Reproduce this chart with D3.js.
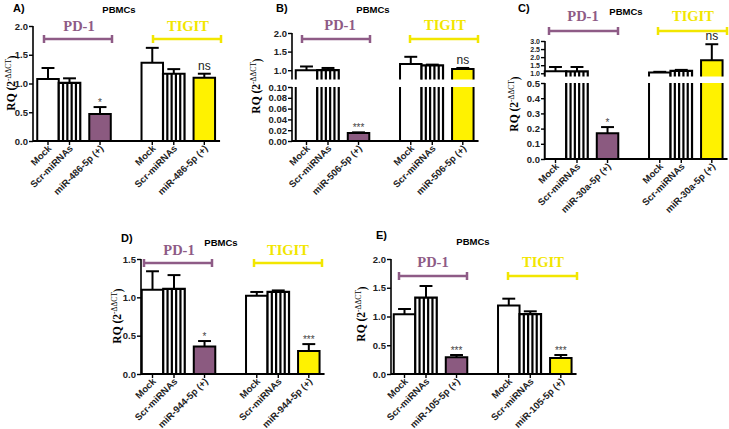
<!DOCTYPE html>
<html><head><meta charset="utf-8">
<script src="https://cdn.jsdelivr.net/npm/d3@7"></script>
<style>body{margin:0;background:#fff} svg{display:block}</style>
</head><body>
<script>
// ---------------- data ----------------
const groupLabels = ["PD-1", "TIGIT"];
const panelTitle = "PBMCs";

const catsA = ["Mock", "Scr-miRNAs", "miR-486-5p (+)"];
const pd1A = [1.08, 1.01, 0.47];   const pd1ErrA = [0.19, 0.08, 0.12];
const tigitA = [1.36, 1.17, 1.10]; const tigitErrA = [0.26, 0.08, 0.07];
const sigA = ["*", "ns"];
const ticksA = [0, 0.5, 1.0, 1.5, 2.0];

const catsB = ["Mock", "Scr-miRNAs", "miR-506-5p (+)"];
const pd1B = [1.00, 1.00, 0.015];  const pd1ErrB = [0.10, 0.06, 0.001];
const tigitB = [1.17, 1.13, 1.03]; const tigitErrB = [0.19, 0.02, 0.03];
const sigB = ["***", "ns"];
const ticksBlow = [0, 0.02, 0.04, 0.06, 0.08, 0.10];
const ticksBup = [1.0, 1.5, 2.0];

const catsC = ["Mock", "Scr-miRNAs", "miR-30a-5p (+)"];
const pd1C = [1.12, 1.12, 0.17];   const pd1ErrC = [0.27, 0.27, 0.04];
const tigitC = [1.05, 1.15, 1.80]; const tigitErrC = [0.04, 0.06, 1.00];
const sigC = ["*", "ns"];
const ticksClow = [0, 0.1, 0.2, 0.3, 0.4, 0.5];
const ticksCup = [1.0, 1.5, 2.0, 2.5, 3.0];

const catsD = ["Mock", "Scr-miRNAs", "miR-944-5p (+)"];
const pd1D = [1.10, 1.11, 0.36];   const pd1ErrD = [0.24, 0.18, 0.07];
const tigitD = [1.02, 1.07, 0.30]; const tigitErrD = [0.05, 0.02, 0.09];
const sigD = ["*", "***"];
const ticksD = [0, 0.5, 1.0, 1.5];

const catsE = ["Mock", "Scr-miRNAs", "miR-105-5p (+)"];
const pd1E = [1.04, 1.33, 0.29];   const pd1ErrE = [0.09, 0.20, 0.04];
const tigitE = [1.19, 1.04, 0.28]; const tigitErrE = [0.12, 0.05, 0.05];
const sigE = ["***", "***"];
const ticksE = [0, 0.5, 1.0, 1.5, 2.0];

// ---------------- layout ----------------
const slotPos = [0, 1, 2.42, 4.85, 5.85, 7.27]; // bar slot positions in bar widths
const BW = 21.5;
const PURPLE = "#8b5a80", YELLOW = "#fff200";
const PD1COL = "#8e5b86", TIGCOL = "#f2e600";

const panels = [
  {letter:"A)", lp:[13,12], cats:catsA, vals:[...pd1A, ...tigitA], errs:[...pd1ErrA, ...tigitErrA], sig:sigA,
   axisX:33, firstC:48, title:[119,13], gl:[[79,31],[188,31]], br:[[44,112],[153,221]], brY:39, ylab:[11,83],
   segs:[{dom:[0,2], rng:[141,26], ticks:ticksA, fmt:".1f", fs:9.5}]},
  {letter:"B)", lp:[276,12], cats:catsB, vals:[...pd1B, ...tigitB], errs:[...pd1ErrB, ...tigitErrB], sig:sigB,
   axisX:292, firstC:306.5, title:[373,13], gl:[[340,30],[445,30]], br:[[302,370],[410,478]], brY:39, ylab:[256,86],
   segs:[{dom:[0,0.1], rng:[141,87], ticks:ticksBlow, fmt:".2f", fs:9.5},{dom:[0.75,2.0], rng:[79.5,33], ticks:ticksBup, fmt:".1f", fs:9.5}]},
  {letter:"C)", lp:[518,12], cats:catsC, vals:[...pd1C, ...tigitC], errs:[...pd1ErrC, ...tigitErrC], sig:sigC,
   axisX:545, firstC:555.5, title:[626,15], gl:[[583,21],[693,21]], br:[[549,618],[658,727]], brY:31, ylab:[514,104],
   segs:[{dom:[0,0.5], rng:[159,83], ticks:ticksClow, fmt:".1f", fs:9.5},{dom:[0.8,3.0], rng:[76.5,41], ticks:ticksCup, fmt:".1f", fs:7}]},
  {letter:"D)", lp:[121,242], cats:catsD, vals:[...pd1D, ...tigitD], errs:[...pd1ErrD, ...tigitErrD], sig:sigD,
   axisX:141, firstC:152.5, title:[221,246], gl:[[179,255],[288,255]], br:[[144,212],[254,322]], brY:263, ylab:[117,316],
   segs:[{dom:[0,1.5], rng:[374,259], ticks:ticksD, fmt:".1f", fs:9.5}]},
  {letter:"E)", lp:[376,239], cats:catsE, vals:[...pd1E, ...tigitE], errs:[...pd1ErrE, ...tigitErrE], sig:sigE,
   axisX:391, firstC:404.5, title:[473,245], gl:[[433,267],[543,267]], br:[[399,467],[508,577]], brY:276, ylab:[361,314],
   segs:[{dom:[0,2.0], rng:[374,259], ticks:ticksE, fmt:".1f", fs:9.5}]}
];

const svg = d3.select("body").append("svg").attr("width", 729).attr("height", 429)
  .style("font-family", "'Liberation Sans', Arial, sans-serif");

panels.forEach(p => {
  const g = svg.append("g");
  const x = d3.scaleLinear().domain([0, 1]).range([p.firstC, p.firstC + BW]);
  p.segs.forEach(s => { s.y = d3.scaleLinear().domain(s.dom).range(s.rng); });
  const y0 = p.segs[0].y(0);
  const yOf = v => {
    let s = p.segs.find(s => v >= s.dom[0] && v <= s.dom[1]);
    if (!s) s = v > p.segs[p.segs.length - 1].dom[1] ? p.segs[p.segs.length - 1] : p.segs[0];
    return s.y(Math.max(s.dom[0], Math.min(s.dom[1], v)));
  };

  // y axes (one per segment)
  p.segs.forEach(s => {
    const ax = g.append("g").attr("transform", `translate(${p.axisX},0)`)
      .call(d3.axisLeft(s.y).tickValues(s.ticks).tickFormat(d3.format(s.fmt)).tickSize(4).tickSizeOuter(0));
    ax.select(".domain").attr("stroke", "#000").attr("stroke-width", 1.6)
      .attr("d", `M0,${s.rng[0]}V${s.rng[1]}`);
    ax.selectAll(".tick line").attr("stroke", "#000").attr("stroke-width", 1.4);
    ax.selectAll(".tick text").attr("x", -5).attr("font-size", s.fs)
      .attr("font-weight", "bold").attr("fill", "#222").attr("font-family", "'Liberation Sans', Arial, sans-serif");
  });

  // bars
  p.vals.forEach((v, i) => {
    const cx = x(slotPos[i]);
    const left = cx - BW / 2, right = cx + BW / 2;
    const k = i % 3, grp = Math.floor(i / 3);
    const fill = k === 2 ? (grp === 0 ? PURPLE : YELLOW) : "#fff";
    p.segs.forEach(s => {
      if (v <= s.dom[0]) return;
      const yb = s.y(s.dom[0]);
      const yt = s.y(Math.min(v, s.dom[1]));
      g.append("rect").attr("x", left).attr("y", yt).attr("width", BW).attr("height", yb - yt).attr("fill", fill);
      if (k === 1) {
        [0.2, 0.4, 0.6, 0.8].forEach(f => {
          g.append("line").attr("x1", left + f * BW).attr("x2", left + f * BW).attr("y1", yt).attr("y2", yb)
            .attr("stroke", "#000").attr("stroke-width", 2.2);
        });
      }
      let d = `M${left},${yb}V${yt}`;
      d += v <= s.dom[1] ? `H${right}` : `M${right},${yt}`;
      d += `V${yb}`;
      g.append("path").attr("d", d).attr("fill", "none").attr("stroke", "#000")
        .attr("stroke-width", k === 1 ? 2.2 : 2).attr("stroke-linejoin", "miter");
    });
    // error bar
    const e = p.errs[i];
    const ya = yOf(v), ye = yOf(v + e);
    if (ya - ye > 0.5) {
      g.append("line").attr("x1", cx).attr("x2", cx).attr("y1", ya).attr("y2", ye).attr("stroke", "#000").attr("stroke-width", 2);
    }
    g.append("line").attr("x1", cx - BW * 0.3).attr("x2", cx + BW * 0.3).attr("y1", ye).attr("y2", ye)
      .attr("stroke", "#000").attr("stroke-width", 2);
    if (k === 2) {
      const lab = p.sig[grp];
      g.append("text").attr("x", cx).attr("y", lab === "ns" ? ye - 4 : ye - 1)
        .attr("text-anchor", "middle").attr("font-size", lab === "ns" ? 12 : 10)
        .attr("fill", lab === "ns" ? "#222" : "#444").text(lab);
    }
  });

  // x axis
  const lastRight = x(slotPos[5]) + BW / 2;
  g.append("line").attr("x1", p.axisX).attr("x2", lastRight + 5).attr("y1", y0).attr("y2", y0)
    .attr("stroke", "#000").attr("stroke-width", 1.8);
  p.vals.forEach((v, i) => {
    const cx = x(slotPos[i]);
    g.append("line").attr("x1", cx).attr("x2", cx).attr("y1", y0).attr("y2", y0 + 4).attr("stroke", "#000").attr("stroke-width", 1.4);
    g.append("text").attr("text-anchor", "end").attr("font-size", 9.5).attr("font-weight", "bold").attr("fill", "#222")
      .attr("transform", `translate(${cx + 4},${y0 + 8}) rotate(-45)`).text(p.cats[i % 3]);
  });

  // titles
  g.append("text").attr("x", p.lp[0]).attr("y", p.lp[1]).attr("font-size", 11).attr("font-weight", "bold").text(p.letter);
  g.append("text").attr("x", p.title[0]).attr("y", p.title[1]).attr("text-anchor", "middle")
    .attr("font-size", 9.5).attr("font-weight", "bold").text(panelTitle);
  groupLabels.forEach((lab, j) => {
    const col = j === 0 ? PD1COL : TIGCOL;
    g.append("text").attr("x", p.gl[j][0]).attr("y", p.gl[j][1]).attr("text-anchor", "middle")
      .attr("font-family", "'Liberation Serif', 'Times New Roman', serif").attr("font-weight", "bold")
      .attr("font-size", 14.5).attr("fill", col).text(lab);
    const [a, b] = p.br[j];
    g.append("path").attr("d", `M${a},${p.brY}H${b}M${a},${p.brY - 4}V${p.brY + 4}M${b},${p.brY - 4}V${p.brY + 4}`)
      .attr("stroke", col).attr("stroke-width", 2.5).attr("fill", "none");
  });

  // y label
  const yl = g.append("text").attr("transform", `translate(${p.ylab[0]},${p.ylab[1]}) rotate(-90)`)
    .attr("text-anchor", "middle").attr("dy", "0.35em")
    .attr("font-family", "'Liberation Serif', 'Times New Roman', serif").attr("font-size", 11.5).attr("font-weight", "bold");
  yl.append("tspan").text("RQ (2");
  yl.append("tspan").attr("font-size", 7.5).attr("font-weight", "normal").attr("dy", "-0.55em").text("-ΔΔCT");
  yl.append("tspan").attr("dy", "0.4em").text(")");
});
</script>
</body></html>
